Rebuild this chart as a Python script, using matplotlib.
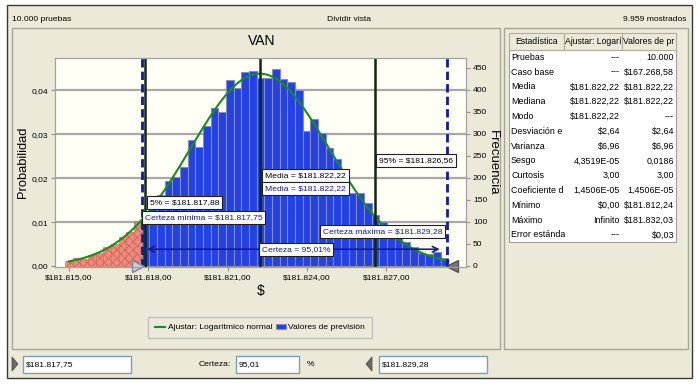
import numpy as np
import matplotlib.pyplot as plt
from matplotlib.patches import Rectangle, Polygon
from matplotlib.transforms import offset_copy

plt.rcParams['font.family'] = ['Liberation Sans', 'DejaVu Sans']
plt.rcParams['hatch.linewidth'] = 0.6

# values
trials = 10000
shown = 9959
bin_left = 181814.85
bin_width = 0.29
counts = [11, 19, 16, 25, 29, 42, 50, 65, 76, 103,
          118, 138, 160, 193, 202, 225, 287, 269, 318, 358,
          349, 422, 403, 441, 442, 426, 426, 447, 424, 418,
          399, 306, 333, 302, 267, 242, 206, 166, 165, 142,
          116, 99, 85, 67, 55, 44, 29, 27, 32, 17]
fit_mean = 181822.22
fit_sd = 2.64
cert_min = 181817.75
cert_max = 181829.28
certainty = 95.01
p5 = 181817.88
p95 = 181826.56
mean_val = 181822.22

x_ticks = [181815, 181818, 181821, 181824, 181827]
prob_ticks = [0.00, 0.01, 0.02, 0.03, 0.04]
freq_ticks = [0, 50, 100, 150, 200, 250, 300, 350, 400, 450]

stat_header = ['Estadística', 'Ajustar: Logarí', 'Valores de pr']
stat_names = ['Pruebas', 'Caso base', 'Media', 'Mediana', 'Modo', 'Desviación e',
              'Varianza', 'Sesgo', 'Curtosis', 'Coeficiente d', 'Mínimo', 'Máximo',
              'Error estánda']
stat_fit = ['---', '---', '$181.822,22', '$181.822,22', '$181.822,22', '$2,64',
            '$6,96', '4,3519E-05', '3,00', '1,4506E-05', '$0,00', 'Infinito', '---']
stat_fc = ['10.000', '$167.268,58', '$181.822,22', '$181.822,22', '---', '$2,64',
           '$6,96', '0,0186', '3,00', '1,4506E-05', '$181.812,24', '$181.832,03', '$0,03']


def money(v):
    s = f'{v:,.2f}'
    return '$' + s.replace(',', '#').replace('.', ',').replace('#', '.')


def dec(v, n=2):
    return f'{v:.{n}f}'.replace('.', ',')


BEIGE = '#ece9d8'
NAVY = '#1a1a8c'
DARK = '#0f2a0f'
FS = 6.1

fig = plt.figure(figsize=(6.98, 3.89), dpi=100, facecolor='white')

# window chrome, drawn in pixel coordinates
bg = fig.add_axes([0, 0, 1, 1])
bg.set_xlim(0, 698)
bg.set_ylim(389, 0)
bg.axis('off')
bg.add_patch(Rectangle((7, 5), 685, 373, fc=BEIGE, ec='#3a3a3a', lw=1))
bg.add_patch(Rectangle((12, 28), 488, 321, fc='none', ec='#a8a598', lw=1))
bg.add_patch(Rectangle((504, 28), 184, 321, fc='none', ec='#a8a598', lw=1))
bg.text(12, 19, f'{trials:,}'.replace(',', '.') + ' pruebas', fontsize=FS, va='center')
bg.text(349, 19, 'Dividir vista', fontsize=FS, va='center', ha='center')
bg.text(686, 19, f'{shown:,}'.replace(',', '.') + ' mostrados', fontsize=FS, va='center', ha='right')
bg.text(262, 41, 'VAN', fontsize=10, va='center', ha='center')

# statistics table
cols = [509, 564, 622, 676]
bg.add_patch(Rectangle((509, 50), 167, 13 * 14.8, fc='white', ec='#a0a0a0', lw=0.8))
for i in range(3):
    bg.add_patch(Rectangle((cols[i], 33), cols[i + 1] - cols[i], 17, fc=BEIGE, ec='#b0ad9c', lw=0.8))
    bg.text((cols[i] + cols[i + 1]) / 2, 41.5, stat_header[i], fontsize=6.2, ha='center', va='center')
for r, (name, a, b) in enumerate(zip(stat_names, stat_fit, stat_fc)):
    yc = 57.3 + r * 14.8
    bg.text(511, yc, name, fontsize=6.4, va='center')
    bg.text(620, yc, a, fontsize=6.4, va='center', ha='right')
    bg.text(674, yc, b, fontsize=6.4, va='center', ha='right')

# bottom controls
bg.add_patch(Polygon([[12, 357], [18, 364], [12, 371]], fc='#6a6a6a', ec='#404040', lw=0.5))
bg.add_patch(Polygon([[372, 357], [366, 364], [372, 371]], fc='#6a6a6a', ec='#404040', lw=0.5))
for x0, w, t in [(23, 108, money(cert_min)), (236, 63, dec(certainty)), (379, 108, money(cert_max))]:
    bg.add_patch(Rectangle((x0, 356), w, 17, fc='white', ec='#7f9db9', lw=1))
    bg.text(x0 + 3, 364.5, t, fontsize=FS, va='center')
bg.text(231, 364.5, 'Certeza:', fontsize=FS, va='center', ha='right')
bg.text(307, 364.5, '%', fontsize=FS, va='center')

# chart
ax = fig.add_axes([55 / 698, 1 - 267.3 / 389, (466 - 55) / 698, (267.3 - 58.3) / 389])
axp = ax.twinx()
ax.set_facecolor('#fffff6')
counts = np.array(counts)
edges = bin_left + bin_width * np.arange(len(counts))
red = edges + bin_width <= cert_min + 1e-6

for p in prob_ticks[1:]:
    ax.axhline(p * shown, color='#a8a8a8', lw=1.6, zorder=0.5)

ax.bar(edges[red], counts[red], width=bin_width, align='edge', color='#f28a7a',
       edgecolor='#c8685c', hatch='xxxx', lw=0.4, zorder=1)
bars = ax.bar(edges[~red], counts[~red], width=bin_width, align='edge', color='#2342e6',
              edgecolor='#8a8ab8', lw=0.8, zorder=1, label='Valores de previsión')

xs = np.linspace(bin_left + bin_width / 2, edges[-1] + bin_width, 300)
fit = shown * bin_width * np.exp(-0.5 * ((xs - fit_mean) / fit_sd) ** 2) / (fit_sd * np.sqrt(2 * np.pi))
fit_line, = ax.plot(xs, fit, color='#1a8c1a', lw=1.5, zorder=3, label='Ajustar: Logarítmico normal')

for v in (cert_min, cert_max):
    ax.axvline(v, color='#0c1aa8', lw=2, ls=(0, (3, 1.5)), zorder=4)
for v in (p5, mean_val, p95):
    ax.axvline(v, color=DARK, lw=1.8, zorder=4)

ax.annotate('', xy=(cert_max - 0.15, 38), xytext=(cert_min + 0.1, 38),
            arrowprops=dict(arrowstyle='<->', color=NAVY, lw=1.2), zorder=5)

box = dict(boxstyle='square,pad=0.35', fc='white', ec='#202020', lw=0.8)
lab = dict(fontsize=FS, va='center', zorder=6)
ax.text(p5 + 0.18, 144, '5% = ' + money(p5), ha='left', bbox=box, **lab)
ax.text(cert_min + 0.12, 110, 'Certeza mínima = ' + money(cert_min), ha='left', color=NAVY, bbox=box, **lab)
ax.text(mean_val + 0.2, 205, 'Media = ' + money(mean_val), ha='left', bbox=box, **lab)
ax.text(mean_val + 0.2, 175, 'Media = ' + money(mean_val), ha='left', color=NAVY, bbox=box, **lab)
ax.text(p95 + 0.18, 239, '95% = ' + money(p95), ha='left', bbox=box, **lab)
ax.text(cert_max - 0.17, 79, 'Certeza máxima = ' + money(cert_max), ha='right', color=NAVY, bbox=box, **lab)
ax.text(mean_val + 0.08, 38, 'Certeza = ' + dec(certainty) + '%', ha='left', color=NAVY, bbox=box, **lab)

# grab handles at the certainty limits
ax.plot([cert_min], [0], marker='>', ms=8, mfc='#c8c8e4', mec='#808090', clip_on=False, zorder=7,
        transform=offset_copy(ax.transData, fig=fig, x=-3.5, y=0, units='dots'))
ax.plot([cert_max], [0], marker='<', ms=8, mfc='#787878', mec='#505050', clip_on=False, zorder=7,
        transform=offset_copy(ax.transData, fig=fig, x=5.5, y=0, units='dots'))

ax.set_xlim(181814.478, 181830.017)
ax.set_ylim(-3, 471.3)
ax.set_xticks(x_ticks)
ax.set_xticklabels([money(v) for v in x_ticks], fontsize=FS)
ax.set_xlabel('$', fontsize=10, labelpad=2)

# frequency on the right, probability on the left
ax.yaxis.tick_right()
ax.set_yticks(freq_ticks)
ax.set_yticklabels([str(v) for v in freq_ticks], fontsize=FS)
ax.yaxis.set_label_position('right')
ax.set_ylabel('Frecuencia', fontsize=9.5, rotation=270, va='center', ha='center')
ax.yaxis.set_label_coords((493 - 55) / 411, 0.5)
ax.tick_params(axis='both', length=3, color='#909090', pad=2)
for s in ax.spines.values():
    s.set_color('#a0a0a0')

axp.yaxis.tick_left()
axp.set_ylim(-3 / shown, 471.3 / shown)
axp.set_yticks(prob_ticks)
axp.set_yticklabels([dec(v) for v in prob_ticks], fontsize=FS)
axp.yaxis.set_label_position('left')
axp.set_ylabel('Probabilidad', fontsize=9.3, va='center', ha='center')
axp.yaxis.set_label_coords((23 - 55) / 411, 0.5)
axp.tick_params(axis='y', length=3, color='#909090', pad=2)
for s in axp.spines.values():
    s.set_color('#a0a0a0')

leg = fig.legend(handles=[fit_line, bars], loc='center', bbox_to_anchor=(260 / 698, 1 - 327.5 / 389),
                 ncol=2, fontsize=FS, frameon=True, fancybox=False, edgecolor='#c0c0c0',
                 facecolor=BEIGE, framealpha=1, handlelength=1.2, handletextpad=0.3,
                 columnspacing=0.4, borderpad=0.8)

fig.savefig('out.png', dpi=100, facecolor='white')
